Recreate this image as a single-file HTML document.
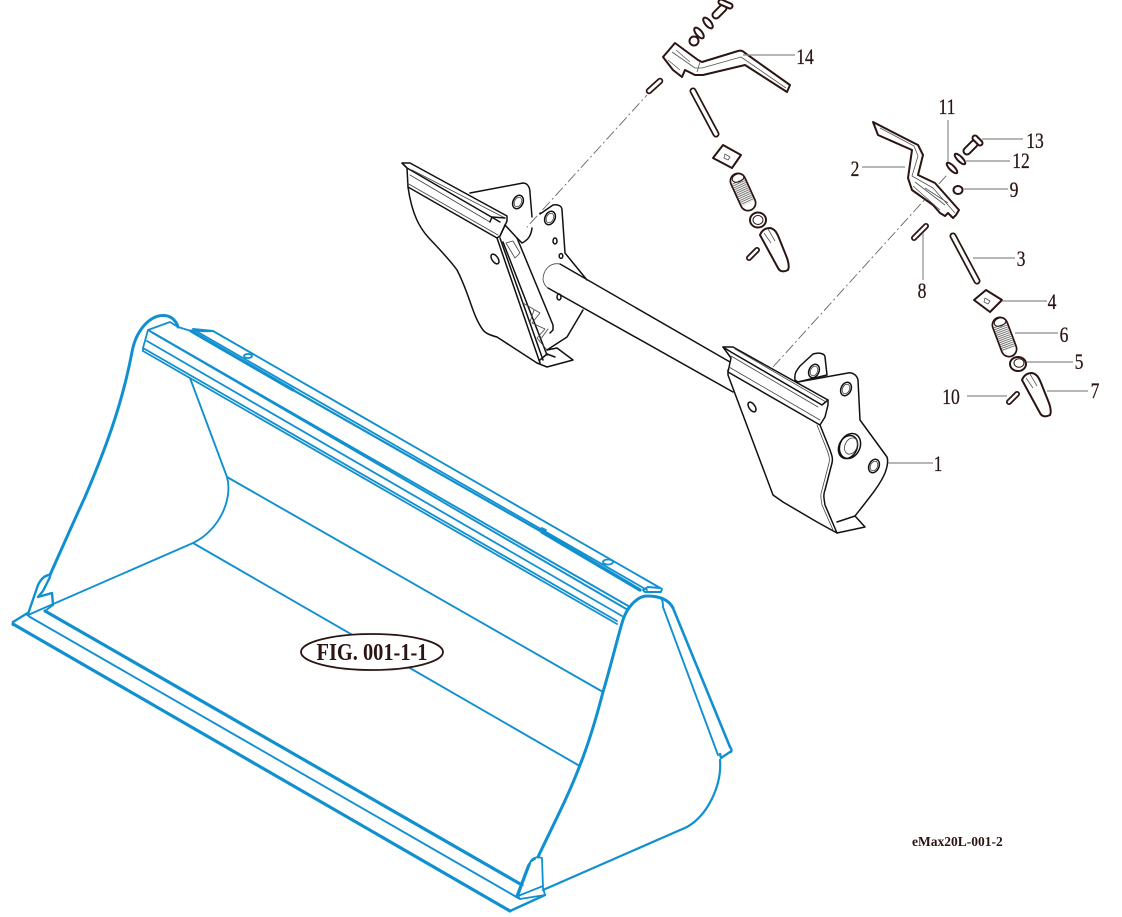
<!DOCTYPE html>
<html lang="en">
<head>
<meta charset="utf-8">
<title>FIG. 001-1-1</title>
<style>
html,body{margin:0;padding:0;background:#fff}
svg{display:block}
.b path{fill:none;stroke:#1190d0;stroke-linejoin:round;stroke-linecap:round}
.k path,.k ellipse{fill:none;stroke:#111;stroke-width:1.5;stroke-linejoin:round;stroke-linecap:round}
.k .w{fill:#fff}
.k .t{stroke-width:.8;stroke:#444}
.p path,.p polygon,.p ellipse{fill:#fff;stroke:#2a1512;stroke-width:2;stroke-linejoin:round}
.p .i{fill:none;stroke:#555;stroke-width:.8}
.p .o,.p .c{fill:none;stroke-linecap:round}
.p line.o{stroke:#2a1512}
.p line.c{stroke:#fff}
.p line.s{stroke:#777;stroke-dasharray:1 1}
.g line{stroke:#8a8a8a;stroke-width:1.2}
.d line{stroke:#666;stroke-width:.9;stroke-dasharray:11 3 2 3}
text{font-family:"Liberation Serif",serif;fill:#2a1512;stroke:#2a1512;stroke-width:.25}
.n{font-size:22px;text-anchor:middle}
</style>
</head>
<body>
<svg width="1122" height="917" viewBox="0 0 1122 917" xmlns="http://www.w3.org/2000/svg">
<rect width="1122" height="917" fill="#fff"/>

<!-- Bucket -->
<g class="b">
 <path style="stroke-width:3" d="M50,575C62,548 73,523 85,497C105,450 122,405 132,352C136,330 150,315.500 163,315.500C170,315 176,320 178,327"/>
 <path style="stroke-width:3" d="M538,857C553,825 568,797 580,765C590,740 597,715 603,692C611,665 617,640 622,623C626,608 637,596 647,596C656,596 668,598 673,608"/>
 <path style="stroke-width:3.200" d="M13,624L510,911"/>
 <path style="stroke-width:3.200" d="M45,611L522,885"/>
 <path style="stroke-width:2.400" d="M13,622L26,614L28,613M13,622L13,625M510,911L545,895"/>
 <path style="stroke-width:2.400" d="M50,575C44,575 40,581 38,585L28,614"/>
 <path style="stroke-width:2.400" d="M50,577L43,591L38,597L52,593L53,605"/>
 <path style="stroke-width:3.200" d="M191,331L293,390"/>
 <path style="stroke-width:3.400" d="M542,532L640,590"/>
 <path style="stroke-width:2.400" d="M730,747C732,749 732,752 730,752L721,758L720,754"/>
 <path style="stroke-width:2.600" d="M673,608L730,747"/>
 <g style="stroke-width:1.800">
  <path style="stroke-width:1.900" d="M193,329L213,331L662,589L661,592L645,592L643,590L648,587L660,588"/>
  <path style="stroke-width:2.200" d="M293,390L542,532"/>
  <path d="M196,331L647,590"/>
  <path style="stroke-width:1.900" d="M148,330L630,607"/>
  <path style="stroke-width:1.900" d="M153,333L628,610"/>
  <path d="M147,341L622,616"/>
  <path d="M143,348L617,621"/>
  <path d="M143,351L617,624"/>
  <path d="M148,330L143,348L143,351M148,330L170,322L178,327L191,331"/>
  <path style="stroke-width:1.900" d="M190,378L227,477C233,498 220,530 193,543L28,615"/>
  <path style="stroke-width:1.900" d="M227,477L603,692"/>
  <path style="stroke-width:1.900" d="M193,543L578,765"/>
  <path style="stroke-width:1.900" d="M30,617L520,899"/>
  <path d="M53,605L45,611M26,614L30,617"/>
  <path style="stroke-width:1.900" d="M663,607L718,755"/>
  <path d="M660,598C663,599 663,604 663,607"/>
  <path style="stroke-width:2.200" d="M720,760C722,785 708,815 687,827L543,890"/>
  <path d="M538,857L542,858L543,888L545,895L520,899L518,896L543,886"/>
  <path d="M538,857C533,858 530,860 530,864L518,896M535,859C531,861 528,864 527,868L516,897"/>
  <path d="M522,885L518,896"/>
  <path d="M622,623L628,608"/>
  <path d="M191,331C195,330 205,332 213,331"/>
  <path d="M248,356m-4,0a4,2 0 1 0 8,0a4,2 0 1 0 -8,0"/>
  <path d="M608,562m-5,0a5,2.500 0 1 0 10,0a5,2.500 0 1 0 -10,0"/>
  <path d="M539,530l3,-2l4,2l-3,3z"/>
 </g>
</g>

<!-- Dashed centre lines -->
<g class="d">
 <line x1="517" y1="238" x2="647" y2="95"/>
 <line x1="773" y1="367" x2="947" y2="175"/>
</g>

<!-- Frame -->
<g class="k">
 <path class="w" d="M470,193L523,183C528,183 530,188 530,193L532,217L520,240L470,240Z" style="stroke:none"/>
 <path d="M470,193L523,183C528,183 530,188 530,193L532,217"/>
 <ellipse cx="518" cy="202" rx="5" ry="7" transform="rotate(25 518 202)"/>
 <ellipse cx="518" cy="202" rx="3.500" ry="5" class="t" transform="rotate(25 518 202)"/>
 <path d="M532,228C531,236 528,240 522,243L517,238"/>
 <path d="M540,214L553,205C558,204 562,206 562,210L565,253L587,280M583,310L567,337L547,350"/>
 <ellipse cx="550" cy="218" rx="5" ry="7" transform="rotate(25 550 218)"/>
 <ellipse cx="550" cy="218" rx="3.500" ry="5" class="t" transform="rotate(25 550 218)"/>
 <ellipse cx="555" cy="241" rx="2" ry="3"/>
 <ellipse cx="561" cy="256" rx="1.800" ry="2.400"/>
 <ellipse cx="559" cy="297" rx="2" ry="3"/>

 <path d="M560,264L730,362"/>
 <path d="M548,288L733,392"/>
 <path class="t" d="M560,264C550,262 543,270 543,280C544,284 546,287 548,288"/>

 <path d="M408,187C412,215 420,228 428,237C440,250 450,260 457,270C470,295 472,315 483,330C486,334 493,336 497,337L537,363L547,367L573,360L557,348L547,350"/>
 <path d="M402,163L410,163L507,216L507,221L500,236L497,238L408,187L407,168Z"/>
 <path d="M402,163L407,168L500,222"/>
 <path class="t" d="M410,175L490,222M412,170L505,218M407,183L498,235"/>
 <path d="M490,222L492,217L505,218"/>
 <path d="M497,238L540,363"/>
 <path d="M500,238L543,360"/>
 <path d="M505,225L517,238L553,325L553,330L550,333"/>
 <path d="M500,236L505,225"/>
 <path d="M503,242L547,355"/>
 <path class="t" d="M506,243L513,241L520,253L515,258ZM523,303L540,313L532,323L545,329L537,338L547,350M534,310L530,322M548,329L540,340"/>
 <path d="M540,360L547,354L555,357"/>
 <ellipse cx="495" cy="259" rx="3" ry="5.500" transform="rotate(-35 495 259)"/>

 <path class="w" d="M798,382L795,380C794,373 797,370 800,366L813,354C820,352 825,354 825,357L827,375L798,382Z"/>
 <ellipse cx="814" cy="371" rx="5" ry="7" transform="rotate(25 814 371)"/>
 <ellipse cx="814" cy="371" rx="3.500" ry="5" class="t" transform="rotate(25 814 371)"/>
 <path class="w" d="M728,375L773,495L783,502L817,522L837,533L865,527L855,516C870,497 880,485 885,473C888,465 888,460 887,457L860,420L858,380C857,375 852,372 848,373L798,382L728,370Z"/>
 <path d="M837,522L855,516"/>
 <path class="w" d="M723,347L733,347L828,400L828,405L825,417L820,425L728,372L731,358Z"/>
 <path d="M723,347L731,352L822,405L828,400"/>
 <path class="t" d="M731,356L818,407M729,367L820,420M735,349L826,402"/>
 <path d="M820,425L830,450C832,456 833,458 832,463L825,490C823,495 824,498 825,505L837,533"/>
 <path class="t" d="M817,425L827,450C829,456 830,458 829,463L822,490C820,495 821,498 822,505L833,530"/>
 <ellipse cx="846" cy="389" rx="5" ry="7" transform="rotate(25 846 389)"/>
 <ellipse cx="846" cy="389" rx="3.500" ry="5" class="t" transform="rotate(25 846 389)"/>
 <ellipse cx="850" cy="446" rx="10" ry="13" transform="rotate(25 850 446)"/>
 <ellipse cx="848" cy="447" rx="9" ry="12" transform="rotate(25 848 447)"/>
 <ellipse cx="851" cy="446" rx="6" ry="8.500" class="t" transform="rotate(25 851 446)"/>
 <ellipse cx="874" cy="466" rx="5" ry="7" transform="rotate(25 874 466)"/>
 <ellipse cx="874" cy="466" rx="3.500" ry="5" class="t" transform="rotate(25 874 466)"/>
 <ellipse cx="752" cy="407" rx="3" ry="5.500" transform="rotate(-35 752 407)"/>
</g>

<!-- Small parts -->
<g class="p">
 <!-- Upper assembly (14) -->
 <line class="o" x1="716" y1="15" x2="723" y2="8" stroke-width="9"/>
 <line class="c" x1="716" y1="15" x2="723" y2="8" stroke-width="5"/>
 <line class="o" x1="721" y1="2" x2="730" y2="6" stroke-width="7"/>
 <line class="c" x1="721" y1="2" x2="730" y2="6" stroke-width="3"/>
 <ellipse cx="708" cy="23" rx="3" ry="6.500" transform="rotate(-40 708 23)"/>
 <ellipse cx="699" cy="33" rx="3" ry="6.500" transform="rotate(-40 699 33)"/>
 <ellipse cx="694" cy="41" rx="4.500" ry="4.500"/>
 <path d="M663,57L675,43L698,60L702,62L738,51C741,50 743,51 745,53L790,85L787,92L745,65L703,75L695,75L685,70L682,77L673,70Z"/>
 <path class="i" d="M672,52L695,68L702,68L741,57L786,88M668,60L680,70M676,50L690,62M700,62L697,72"/>
 <line class="o" x1="649" y1="91" x2="660" y2="81" stroke-width="6.500"/>
 <line class="c" x1="649" y1="91" x2="660" y2="81" stroke-width="3"/>
 <line class="o" x1="693" y1="91" x2="716" y2="134" stroke-width="7"/>
 <line class="c" x1="693" y1="91" x2="716" y2="134" stroke-width="3.500"/>
 <polygon points="723,145 741,155 732,168 713,158"/>
 <polygon class="i" points="725,154 730,157 728,160 724,158"/>
 <line class="o" x1="738" y1="181" x2="748" y2="203" stroke-width="17"/>
 <line class="c" x1="738" y1="181" x2="748" y2="203" stroke-width="13.500"/>
 <line class="s" x1="738" y1="181" x2="748" y2="203" stroke-width="13"/>
 <ellipse class="i" style="stroke:#2a1512;stroke-width:1" cx="738" cy="178" rx="6" ry="4" transform="rotate(-20 738 178)"/>
 <ellipse cx="758" cy="220" rx="8" ry="7.500"/>
 <ellipse class="i" style="stroke:#2a1512;stroke-width:1" cx="758" cy="220" rx="5" ry="4.500"/>
 <g id="latch">
  <path d="M760,235C762,230 766,228 770,228C775,229 777,233 779,238L787,258C789,264 789,268 788,270C784,272 780,272 778,268Z"/>
  <path class="i" d="M764,233L771,243M768,229L775,241"/>
 </g>
 <line class="o" x1="749" y1="258" x2="757" y2="250" stroke-width="6"/>
 <line class="c" x1="749" y1="258" x2="757" y2="250" stroke-width="2.500"/>

 <!-- Lower assembly (2) -->
 <line class="o" x1="967" y1="151" x2="974" y2="144" stroke-width="9"/>
 <line class="c" x1="967" y1="151" x2="974" y2="144" stroke-width="5"/>
 <line class="o" x1="975" y1="138" x2="980" y2="143" stroke-width="7"/>
 <line class="c" x1="975" y1="138" x2="980" y2="143" stroke-width="3"/>
 <ellipse cx="960" cy="159" rx="2.500" ry="7" transform="rotate(-45 960 159)"/>
 <ellipse cx="952" cy="168" rx="2.500" ry="7" transform="rotate(-45 952 168)"/>
 <ellipse cx="958" cy="190" rx="4.500" ry="4"/>
 <path d="M873,122L912,142L918,145L923,155L918,175L935,183L959,210L956,215L953,218L948,213L945,216L940,213L933,205L912,190L908,178L912,150L878,135Z"/>
 <path class="i" d="M880,128L914,146L918,156L912,176L933,188L955,213M915,182L945,205M913,186L940,210M925,188L948,203"/>
 <line class="o" x1="914" y1="238" x2="926" y2="226" stroke-width="6"/>
 <line class="c" x1="914" y1="238" x2="926" y2="226" stroke-width="2.500"/>
 <line class="o" x1="953" y1="236" x2="977" y2="281" stroke-width="7"/>
 <line class="c" x1="953" y1="236" x2="977" y2="281" stroke-width="3.500"/>
 <polygon points="986,290 1002,300 990,312 974,300"/>
 <polygon class="i" points="985,298 990,301 988,304 984,302"/>
 <line class="o" x1="1000" y1="325" x2="1009" y2="349" stroke-width="17"/>
 <line class="c" x1="1000" y1="325" x2="1009" y2="349" stroke-width="13.500"/>
 <line class="s" x1="1000" y1="325" x2="1009" y2="349" stroke-width="13"/>
 <ellipse class="i" style="stroke:#2a1512;stroke-width:1" cx="1000" cy="322" rx="6" ry="4" transform="rotate(-20 1000 322)"/>
 <ellipse cx="1018" cy="364" rx="8" ry="7"/>
 <ellipse class="i" style="stroke:#2a1512;stroke-width:1" cx="1019" cy="363" rx="5" ry="4.200"/>
 <g transform="translate(262,145)">
  <path d="M760,235C762,230 766,228 770,228C775,229 777,233 779,238L787,258C789,264 789,268 788,270C784,272 780,272 778,268Z"/>
  <path class="i" d="M764,233L771,243M768,229L775,241"/>
 </g>
 <line class="o" x1="1009" y1="402" x2="1017" y2="394" stroke-width="6"/>
 <line class="c" x1="1009" y1="402" x2="1017" y2="394" stroke-width="2.500"/>
</g>

<!-- Leaders -->
<g class="g">
 <line x1="743" y1="55" x2="795" y2="55"/>
 <line x1="862" y1="167" x2="905" y2="167"/>
 <line x1="948" y1="120" x2="948" y2="162"/>
 <line x1="982" y1="139" x2="1023" y2="139"/>
 <line x1="965" y1="161" x2="1010" y2="161"/>
 <line x1="963" y1="189" x2="1008" y2="189"/>
 <line x1="923" y1="233" x2="923" y2="280"/>
 <line x1="973" y1="258" x2="1015" y2="258"/>
 <line x1="1002" y1="301" x2="1047" y2="301"/>
 <line x1="1015" y1="333" x2="1058" y2="333"/>
 <line x1="1027" y1="362" x2="1073" y2="362"/>
 <line x1="1047" y1="391" x2="1088" y2="391"/>
 <line x1="967" y1="396" x2="1007" y2="396"/>
 <line x1="888" y1="463" x2="933" y2="463"/>
</g>

<!-- Labels -->
<text class="n" transform="translate(805,64) scale(.8,1)">14</text>
<text class="n" transform="translate(855,176) scale(.8,1)">2</text>
<text class="n" transform="translate(947,114) scale(.8,1)">11</text>
<text class="n" transform="translate(1035,148) scale(.8,1)">13</text>
<text class="n" transform="translate(1021,168) scale(.8,1)">12</text>
<text class="n" transform="translate(1014,197) scale(.8,1)">9</text>
<text class="n" transform="translate(922,298) scale(.8,1)">8</text>
<text class="n" transform="translate(1021,266) scale(.8,1)">3</text>
<text class="n" transform="translate(1052,309) scale(.8,1)">4</text>
<text class="n" transform="translate(1064,342) scale(.8,1)">6</text>
<text class="n" transform="translate(1079,369) scale(.8,1)">5</text>
<text class="n" transform="translate(1095,398) scale(.8,1)">7</text>
<text class="n" transform="translate(951,404) scale(.8,1)">10</text>
<text class="n" transform="translate(938,471) scale(.8,1)">1</text>

<ellipse cx="372" cy="652" rx="71" ry="18" fill="#fff" stroke="#2a1512" stroke-width="1.800"/>
<text font-weight="bold" font-size="24" text-anchor="middle" transform="translate(372,660) scale(.85,1)" style="stroke-width:0">FIG. 001-1-1</text>
<text x="912" y="846" font-weight="bold" font-size="13.500" style="stroke-width:0">eMax20L-001-2</text>
</svg>
</body>
</html>
